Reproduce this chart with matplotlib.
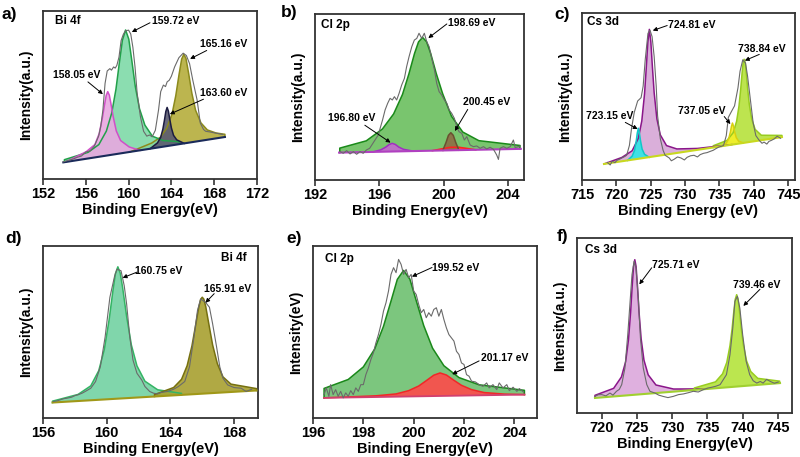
import matplotlib
matplotlib.use("Agg")
import matplotlib.pyplot as plt

plt.rcParams['font.family'] = ['Liberation Sans', 'DejaVu Sans']
plt.rcParams['font.weight'] = 'bold'
plt.rcParams['axes.labelweight'] = 'bold'

# ---------------- a) Bi 4f ----------------
a_raw_x = [153.9, 154.3, 154.8, 155.2, 155.6, 156.0, 156.4, 156.8, 157.2, 157.4, 157.6, 157.8, 158.0, 158.25, 158.4,
           158.6, 158.75, 158.9, 159.1, 159.3, 159.5, 159.7, 160.0, 160.2, 160.4, 160.6, 160.8, 161.1, 161.4, 161.7,
           161.95, 162.2, 162.5, 162.8, 163.0, 163.25, 163.45, 163.6, 163.8, 164.0, 164.3, 164.7, 165.1, 165.4, 165.7,
           166.0, 166.4, 166.7, 167.0, 167.2, 167.6, 168.0, 168.4, 168.8]
a_raw_y = [10.2, 11.0, 11.8, 12.9, 13.7, 16.1, 16.7, 19.6, 25.5, 31.4, 41.2, 56.9, 64.3, 65.7, 64.8,
           66.7, 66.0, 67.6, 72.5, 82.4, 86.0, 88.2, 88.6, 86.3, 78.4, 66.7, 51.0, 37.3, 28.4, 25.5,
           26.2, 25.1, 29.0, 41.2, 52.0, 55.9, 55.0, 57.8, 58.8, 61.2, 66.7, 72.2, 74.9, 73.5, 68.6,
           58.8, 47.1, 33.3, 29.5, 28.4, 28.0, 27.5, 27.0, 26.5]
a_base_x = [153.9, 169.0]
a_base_y = [9.9, 25.0]
a_pink_x = [154.15, 155.0, 156.05, 156.85, 157.25, 157.55, 157.75, 157.9, 158.05, 158.2, 158.35, 158.55, 158.85,
            159.25, 160.05, 161.05]
a_pink_y = [10.15, 12.9, 16.3, 20.5, 27.0, 36.4, 44.2, 49.6, 52.0, 49.9, 44.8, 37.4, 28.6, 22.9, 19.1, 17.05]
a_green_x = [154.0, 154.0, 156.22, 157.22, 157.92, 158.42, 158.82, 159.12, 159.42, 159.72, 160.02, 160.32, 160.62,
             161.02, 161.52, 162.22, 163.22, 164.72, 164.72]
a_green_y = [10.0, 11.5, 15.9, 20.5, 28.5, 39.2, 53.5, 68.4, 82.6, 88.7, 83.2, 69.6, 55.3, 41.8, 32.1, 25.5, 22.9,
             22.2, 20.72]
a_navy_x = [162.0, 162.7, 163.0, 163.2, 163.35, 163.48, 163.6, 163.72, 163.85, 164.0, 164.2, 164.5, 165.2]
a_navy_y = [18.0, 21.5, 24.8, 29.6, 35.0, 40.2, 42.6, 40.4, 35.5, 30.4, 26.0, 23.3, 21.2]
a_olive_x = [160.16, 162.16, 162.96, 163.56, 164.06, 164.41, 164.71, 164.96, 165.16, 165.36, 165.61, 165.91, 166.26,
             166.76, 167.36, 168.16, 169.0, 169.0]
a_olive_y = [16.16, 21.4, 24.8, 30.2, 38.7, 49.6, 62.0, 71.4, 74.2, 71.8, 62.9, 51.1, 40.9, 33.4, 29.2, 27.4, 26.6,
             25.0]

# ---------------- b) Cl 2p ----------------
b_raw_x = [193.56, 193.76, 193.97, 194.18, 194.39, 194.59, 194.8, 195.0, 195.2, 195.4,
           195.6, 195.8, 195.94, 196.05, 196.2, 196.36, 196.52, 196.67, 196.81, 196.94,
           197.08, 197.23, 197.39, 197.56, 197.7, 197.85, 198.02, 198.18, 198.33, 198.47,
           198.64, 198.8, 198.95, 199.1, 199.26, 199.43, 199.57, 199.72, 199.88, 200.05,
           200.2, 200.34, 200.5, 200.67, 200.82, 200.96, 201.13, 201.29, 201.44, 201.65,
           201.85, 202.06, 202.27, 202.48, 202.68, 202.89, 203.1, 203.3, 203.41, 203.51,
           203.72, 203.93, 204.14, 204.34, 204.45, 204.76]
b_raw_y = [17.1, 16.1, 17.7, 15.7, 17.1, 15.5, 17.1, 16.1, 18.1, 19.1,
           22.1, 25.1, 27.1, 31.1, 36.1, 42.2, 46.2, 49.2, 48.2, 50.2,
           48.2, 52.2, 57.2, 61.2, 68.3, 74.3, 80.3, 84.3, 85.3, 88.4,
           85.3, 88.4, 83.3, 80.3, 73.3, 66.3, 58.2, 53.2, 51.2, 48.2,
           46.2, 42.2, 40.2, 37.1, 32.1, 29.1, 28.1, 24.1, 26.1, 21.1,
           20.1, 20.5, 19.1, 20.1, 18.7, 19.7, 18.5, 15.1, 12.4, 19.1,
           20.1, 19.1, 20.1, 24.1, 19.5, 20.5]
b_base_x = [193.5, 204.8]
b_base_y = [16.5, 18.76]
b_green_x = [193.54, 193.54, 195.19, 196.19, 196.89, 197.44, 197.84, 198.19, 198.44, 198.69, 198.94, 199.19, 199.54,
             199.94, 200.49, 201.19, 202.19, 204.75, 204.75]
b_green_y = [16.5, 19.2, 23.6, 30.7, 39.8, 51.5, 63.9, 76.2, 83.2, 85.9, 83.3, 76.4, 64.2, 52.0, 38.4, 28.9, 23.7,
             20.8, 18.75]
b_purple_x = [195.6, 196.1, 196.4, 196.6, 196.8, 197.0, 197.2, 197.5, 198.1]
b_purple_y = [16.9, 18.2, 19.8, 21.3, 22.1, 21.4, 19.9, 18.5, 17.4]
b_brown_x = [199.95, 200.15, 200.3, 200.45, 200.6, 200.75, 200.95]
b_brown_y = [17.8, 22.6, 26.9, 28.5, 26.9, 22.7, 18.0]
b_red_x = [199.3, 199.9, 200.4, 200.9, 201.4, 202.0]
b_red_y = [17.7, 18.8, 19.7, 19.8, 19.1, 18.2]

# ---------------- c) Cs 3d ----------------
c_raw_x = [718.7, 719.1, 719.4, 719.8, 720.1, 720.5, 720.8, 721.2, 721.5, 721.9,
           722.2, 722.6, 723.1, 723.6, 723.9, 724.2, 724.6, 724.9, 725.2, 725.5,
           725.8, 726.0, 726.4, 726.8, 727.1, 727.7, 728.0, 728.4, 728.9, 729.4,
           729.9, 730.3, 730.8, 731.3, 731.8, 732.2, 732.7, 733.2, 733.7, 734.1,
           734.5, 734.9, 735.3, 735.6, 736.0, 736.3, 736.8, 737.2, 737.7, 738.0,
           738.4, 738.8, 739.1, 739.5, 739.9, 740.3, 740.8, 741.2, 741.5, 741.9,
           742.2, 742.6, 743.0, 743.4, 743.9]
c_raw_y = [10.5, 9.0, 11.2, 10.4, 11.8, 12.5, 13.2, 14.0, 14.8, 20.7,
           30.6, 40.4, 47.3, 49.3, 56.2, 72.0, 87.8, 89.7, 85.8, 74.0,
           56.2, 38.5, 24.7, 17.8, 14.8, 13.2, 11.5, 12.4, 13.8, 13.2,
           12.0, 13.6, 14.5, 14.8, 13.8, 15.2, 16.0, 16.4, 17.2, 17.8,
           18.8, 19.7, 20.2, 20.7, 26.6, 37.5, 41.4, 44.4, 55.2, 65.1,
           72.0, 70.0, 62.1, 48.3, 34.5, 26.6, 23.7, 22.0, 22.7, 21.5,
           23.1, 23.8, 24.7, 26.2, 25.0]
c_base_x = [718.2, 744.1]
c_base_y = [9.6, 25.7]
c_purple_x = [718.2, 720.8, 722.3, 723.2, 723.7, 724.1, 724.35, 724.58, 724.8, 725.02, 725.25, 725.5, 725.9, 726.4,
              727.3, 728.8, 731.8, 736.8]
c_purple_y = [9.6, 13.5, 17.5, 25.0, 35.3, 51.5, 67.0, 82.4, 90.2, 82.7, 67.5, 52.4, 36.6, 27.0, 20.6, 18.6, 18.9,
              21.2]
c_cyan_x = [721.6, 722.3, 722.65, 722.9, 723.05, 723.2, 723.35, 723.5, 723.75, 724.1, 724.8]
c_cyan_y = [11.7, 14.3, 17.8, 23.5, 28.2, 31.0, 28.4, 23.9, 18.5, 15.4, 13.6]
c_yellow_x = [735.3, 736.0, 736.35, 736.6, 736.75, 736.9, 737.05, 737.2, 737.45, 737.8, 738.5]
c_yellow_y = [20.2, 22.1, 24.7, 28.7, 32.1, 34.1, 32.3, 29.1, 25.4, 23.2, 22.2]
c_lime_x = [734.1, 734.1, 736.1, 737.0, 737.5, 737.85, 738.1, 738.3, 738.45, 738.6, 738.75, 738.9, 739.1, 739.35,
            739.7, 740.2, 741.1, 744.1, 744.1]
c_lime_y = [19.5, 20.5, 23.7, 28.3, 35.1, 44.3, 54.5, 64.1, 70.2, 72.3, 70.4, 64.5, 55.1, 45.3, 36.5, 30.3, 26.8,
            26.7, 25.7]

# ---------------- d) Bi 4f ----------------
d_raw_x = [156.65, 156.9, 157.1, 157.3, 157.5, 157.8, 158.0, 158.2, 158.45, 158.65,
           159.0, 159.3, 159.6, 159.9, 160.2, 160.5, 160.65, 160.9, 161.1, 161.25,
           161.45, 161.65, 161.9, 162.2, 162.4, 162.7, 162.95, 163.2, 163.4, 163.8,
           164.2, 164.5, 164.9, 165.2, 165.45, 165.7, 165.9, 166.2, 166.45, 166.65,
           166.9, 167.1, 167.3, 167.6, 168.0, 168.45, 168.75, 169.1]
d_raw_y = [9.6, 10.0, 10.6, 11.2, 11.5, 12.1, 13.0, 13.5, 14.4, 15.4,
           17.3, 21.2, 29.8, 47.1, 70.2, 82.7, 86.5, 85.6, 76.9, 66.3,
           47.1, 33.7, 26.0, 22.1, 18.3, 15.4, 14.4, 14.0, 14.8, 15.4,
           16.7, 18.3, 21.2, 29.8, 45.2, 62.5, 69.2, 67.3, 64.4, 54.8,
           41.3, 29.8, 23.1, 19.2, 17.7, 17.3, 15.4, 16.7]
d_base_x = [156.6, 169.4]
d_base_y = [9.0, 16.0]
d_green_x = [156.6, 156.6, 158.2, 159.0, 159.5, 159.85, 160.15, 160.4, 160.55, 160.7, 160.85, 161.0, 161.25, 161.55,
             161.9, 162.4, 163.2, 164.7, 164.7]
d_green_y = [9.0, 9.8, 13.7, 18.7, 27.5, 39.9, 57.0, 74.7, 84.0, 87.9, 84.2, 75.8, 59.1, 42.4, 30.3, 21.4, 16.4,
             14.3, 13.5]
d_olive_x = [163.0, 163.0, 164.2, 164.7, 165.05, 165.35, 165.6, 165.78, 165.9, 166.0, 166.1, 166.22, 166.4, 166.65,
             166.95, 167.3, 167.8, 169.4, 169.4]
d_olive_y = [12.5, 13.6, 17.7, 22.5, 30.4, 41.8, 54.8, 64.4, 69.0, 70.2, 69.1, 64.7, 55.3, 42.5, 31.5, 23.9, 19.7,
             17.1, 16.0]

# ---------------- e) Cl 2p ----------------
e_raw_x = [196.44, 196.53, 196.63, 196.7, 196.8, 196.9, 197.0, 197.1, 197.2, 197.3,
           197.4, 197.5, 197.6, 197.7, 197.8, 197.9, 198.0, 198.1, 198.2, 198.3,
           198.4, 198.5, 198.6, 198.7, 198.8, 198.9, 199.0, 199.1, 199.2, 199.3,
           199.4, 199.5, 199.6, 199.7, 199.8, 199.9, 200.0, 200.1, 200.2, 200.3,
           200.4, 200.5, 200.6, 200.7, 200.8, 200.9, 201.0, 201.1, 201.2, 201.3,
           201.4, 201.5, 201.6, 201.7, 201.8, 201.9, 202.0, 202.1, 202.2, 202.3,
           202.45, 202.6, 202.75, 202.9, 203.0, 203.15, 203.3, 203.4, 203.55, 203.7,
           203.8, 203.95, 204.1, 204.2, 204.36]
e_raw_y = [13.6, 17.5, 12.6, 19.4, 13.6, 16.5, 12.6, 15.5, 11.7, 14.6,
           12.6, 15.9, 13.6, 17.5, 15.5, 19.4, 19.4, 25.2, 29.1, 34.0,
           37.9, 43.7, 48.5, 54.4, 62.1, 67.0, 73.8, 83.5, 87.4, 84.5,
           92.2, 89.3, 83.5, 86.4, 81.6, 83.5, 73.8, 71.8, 66.0, 61.2,
           63.1, 58.3, 61.2, 59.2, 63.1, 64.1, 59.2, 63.1, 57.3, 52.4,
           48.5, 46.6, 44.7, 38.8, 36.9, 32.0, 31.1, 25.2, 24.3, 21.4,
           21.0, 19.4, 18.4, 20.4, 17.5, 19.4, 16.5, 20.4, 17.5, 19.4,
           15.9, 17.9, 15.5, 17.1, 15.1]
e_base_x = [196.44, 204.4]
e_base_y = [11.7, 13.6]
e_green_x = [196.44, 196.44, 197.4, 198.0, 198.45, 198.8, 199.1, 199.35, 199.6, 199.85, 200.1, 200.4, 200.75, 201.2,
             201.8, 202.6, 204.4, 204.4]
e_green_y = [11.7, 17.2, 22.4, 29.7, 40.1, 53.3, 68.0, 80.6, 85.8, 80.7, 68.3, 53.7, 40.6, 30.4, 23.5, 19.3, 16.1,
             13.6]
e_red_x = [196.44, 198.5, 199.3, 199.8, 200.2, 200.5, 200.8, 201.05, 201.3, 201.6, 201.9, 202.3, 202.8, 203.6, 204.4]
e_red_y = [11.7, 12.9, 14.0, 15.9, 18.6, 21.7, 24.9, 26.2, 25.0, 21.9, 19.0, 16.5, 14.8, 13.9, 13.6]

# ---------------- f) Cs 3d ----------------
f_raw_x = [719.05, 719.5, 720.0, 720.6, 721.18, 721.6, 722.1, 722.5, 722.84, 723.3,
           723.7, 724.0, 724.3, 724.6, 724.87, 725.2, 725.5, 725.9, 726.4, 726.85,
           727.56, 728.1, 728.7, 729.4, 730.16, 730.9, 731.6, 732.3, 733.0, 733.7,
           734.4, 735.0, 735.6, 736.2, 736.8, 737.7, 738.2, 738.6, 738.9, 739.25,
           739.6, 740.0, 740.5, 741.0, 741.5, 742.0, 742.5, 742.9, 743.4, 743.9,
           744.5, 745.05]
f_raw_y = [9.5, 10.4, 10.5, 9.8, 11.4, 10.2, 12.4, 13.5, 16.2, 25.7,
           44.8, 61.9, 79.0, 86.7, 82.9, 65.7, 42.9, 25.7, 16.2, 12.4,
           11.4, 10.2, 9.5, 8.8, 9.5, 10.5, 10.9, 11.6, 12.4, 12.0,
           13.3, 14.2, 14.7, 15.3, 16.2, 21.9, 33.3, 48.6, 63.8, 66.7,
           60.0, 44.8, 29.5, 21.9, 18.4, 17.1, 18.0, 17.1, 19.2, 18.1,
           17.0, 17.7]
f_base_x = [719.05, 745.3]
f_base_y = [8.6, 17.1]
f_purple_x = [719.05, 719.05, 721.7, 722.8, 723.4, 723.8, 724.1, 724.32, 724.52, 724.7, 724.88, 725.08, 725.3, 725.6,
              726.0, 726.6, 727.7, 730.2, 735.0]
f_purple_y = [8.6, 10.1, 14.1, 20.6, 29.3, 41.8, 57.3, 72.1, 83.7, 87.6, 83.8, 72.3, 57.7, 42.4, 30.2, 21.8, 16.0,
              13.7, 13.8]
f_lime_x = [733.15, 733.15, 736.15, 737.15, 737.75, 738.2, 738.5, 738.75, 738.95, 739.15, 739.35, 739.55, 739.8,
            740.1, 740.55, 741.15, 742.15, 745.25, 745.25]
f_lime_y = [13.2, 14.3, 17.8, 22.4, 28.9, 38.4, 48.0, 58.1, 65.0, 67.6, 65.1, 58.4, 48.4, 39.0, 29.8, 23.7, 19.8,
            18.2, 17.1]

W, H = 800, 457
fig = plt.figure(figsize=(W / 100, H / 100), dpi=100)


def panel(l, t, r, b):
    return fig.add_axes([l / W, 1 - b / H, (r - l) / W, (b - t) / H])


def style(ax, xlim, ticks, xlabel, ylabel):
    ax.set_xlim(*xlim)
    ax.set_ylim(0, 100)
    ax.set_xticks(ticks)
    ax.set_yticks([])
    ax.tick_params(axis='x', direction='out', length=4, width=1.2, labelsize=10.5, pad=2, color='#333333')
    for s in ax.spines.values():
        s.set_linewidth(1.3)
        s.set_color('#333333')
    ax.set_xlabel(xlabel, fontsize=10.5, labelpad=1.5)
    ax.set_ylabel(ylabel, fontsize=10, labelpad=7)


def peak(ax, x, y, fc, ec, z=2):
    ax.fill(x, y, color=fc, alpha=0.9, lw=0, zorder=z)
    ax.plot(x, y, color=ec, lw=1.1, zorder=z + 3)


def note(ax, text, pos, start, end):
    ax.text(pos[0], pos[1], text, fontsize=7.5, ha='left', va='center', zorder=10)
    ax.annotate('', xy=end, xytext=start, zorder=10,
                arrowprops=dict(arrowstyle='-|>', color='black', lw=0.7, mutation_scale=6,
                                shrinkA=0, shrinkB=0))


def raw(ax, x, y):
    ax.plot(x, y, color='#6a6a6a', lw=0.8, zorder=7)


# a)
ax = panel(43, 11, 257, 179)
peak(ax, a_olive_x, a_olive_y, '#b5ad3c', '#8c8a1c', 2)
peak(ax, a_green_x, a_green_y, '#7fdaa8', '#22a04a', 2)
peak(ax, a_pink_x, a_pink_y, '#e8a8e0', '#d050c8', 3)
peak(ax, a_navy_x, a_navy_y, '#5a5a70', '#1c1c40', 3)
ax.plot(a_base_x, a_base_y, color='#1a2a5a', lw=1.5, zorder=6)
raw(ax, a_raw_x, a_raw_y)
style(ax, (152, 172), [152, 156, 160, 164, 168, 172], 'Binding Energy(eV)', 'Intensity(a.u.)')
ax.text(153.1, 94, 'Bi 4f', fontsize=8.5, va='center')
note(ax, '159.72 eV', (162.2, 94), (162.0, 93), (160.3, 87.5))
note(ax, '165.16 eV', (166.7, 80.4), (167.3, 76.5), (165.75, 71.5))
note(ax, '158.05 eV', (152.9, 61.8), (156.2, 57.8), (157.6, 50.5))
note(ax, '163.60 eV', (166.7, 51), (167.0, 47.5), (163.85, 38.6))

# b)
ax = panel(315, 14, 524, 180)
peak(ax, b_green_x, b_green_y, '#6abf5e', '#1a8a1a', 2)
peak(ax, b_purple_x, b_purple_y, '#c468d0', '#a030c0', 3)
peak(ax, b_red_x, b_red_y, '#ff4040', '#ff2020', 3)
peak(ax, b_brown_x, b_brown_y, '#8e6e44', '#6a5030', 3)
ax.plot(b_base_x, b_base_y, color='#b040c0', lw=1.5, zorder=6)
raw(ax, b_raw_x, b_raw_y)
style(ax, (192, 205), [192, 196, 200, 204], 'Binding Energy(eV)', 'Intensity(a.u.)')
ax.text(192.4, 93.4, 'Cl 2p', fontsize=8.5, va='center')
note(ax, '198.69 eV', (200.3, 94.8), (200.2, 94), (199.05, 85.5))
note(ax, '200.45 eV', (201.2, 47.2), (201.5, 42.5), (200.7, 29.5))
note(ax, '196.80 eV', (192.8, 37.1), (195.1, 33.0), (196.7, 22.5))

# c)
ax = panel(582, 13, 795, 180)
peak(ax, c_lime_x, c_lime_y, '#b6e23c', '#98cc20', 2)
peak(ax, c_yellow_x, c_yellow_y, '#f4f028', '#d8d010', 3)
peak(ax, c_purple_x, c_purple_y, '#d6a6d6', '#8a168a', 2)
peak(ax, c_cyan_x, c_cyan_y, '#2ee6e6', '#10c8c8', 3)
ax.plot(c_base_x, c_base_y, color='#c8d820', lw=1.5, zorder=6)
raw(ax, c_raw_x, c_raw_y)
style(ax, (715, 746), [715, 720, 725, 730, 735, 740, 745], 'Binding Energy (eV)', 'Intensity(a.u.)')
ax.text(715.8, 94.7, 'Cs 3d', fontsize=8.5, va='center')
note(ax, '724.81 eV', (727.5, 92.7), (727.4, 92.5), (725.3, 89.5))
note(ax, '738.84 eV', (737.7, 78.3), (740.8, 75.2), (738.7, 71.5))
note(ax, '723.15 eV', (715.6, 38.1), (721.3, 34.5), (723.1, 30.5))
note(ax, '737.05 eV', (728.9, 41.4), (735.7, 38.0), (736.6, 33.5))

# d)
ax = panel(43, 246, 258, 418)
peak(ax, d_green_x, d_green_y, '#72d2a2', '#34b464', 2)
peak(ax, d_olive_x, d_olive_y, '#a8a030', '#767010', 3)
ax.plot(d_base_x, d_base_y, color='#a09818', lw=1.5, zorder=6)
raw(ax, d_raw_x, d_raw_y)
style(ax, (156, 169.5), [156, 160, 164, 168], 'Binding Energy(eV)', 'Intensity(a.u.)')
ax.text(168.8, 93.3, 'Bi 4f', fontsize=8.5, va='center', ha='right')
note(ax, '160.75 eV', (161.8, 85.6), (161.9, 84.8), (161.0, 81.5))
note(ax, '165.91 eV', (166.1, 75), (166.75, 72.3), (166.2, 67.0))

# e)
ax = panel(313, 246, 537, 418)
peak(ax, e_green_x, e_green_y, '#6ec070', '#1a881a', 2)
peak(ax, e_red_x, e_red_y, '#ff4a4a', '#f02828', 3)
ax.plot(e_base_x, e_base_y, color='#d04070', lw=1.3, zorder=6)
raw(ax, e_raw_x, e_raw_y)
style(ax, (196, 204.9), [196, 198, 200, 202, 204], 'Binding Energy(eV)', 'Intensity(eV)')
ax.text(196.47, 92.2, 'Cl 2p', fontsize=8.5, va='center')
note(ax, '199.52 eV', (200.73, 87), (200.73, 87.5), (199.93, 82.2))
note(ax, '201.17 eV', (202.67, 35), (202.6, 33.2), (201.53, 25.4))

# f)
ax = panel(577, 238, 792, 413)
peak(ax, f_purple_x, f_purple_y, '#dca8dc', '#8a168a', 2)
peak(ax, f_lime_x, f_lime_y, '#b4e43c', '#98cc20', 2)
ax.plot(f_base_x, f_base_y, color='#a0d030', lw=1.5, zorder=6)
raw(ax, f_raw_x, f_raw_y)
style(ax, (716.5, 747), [720, 725, 730, 735, 740, 745], 'Binding Energy(eV)', 'Intensity(a.u.)')
ax.text(717.6, 93.3, 'Cs 3d', fontsize=8.5, va='center')
note(ax, '725.71 eV', (727.1, 84.8), (727.1, 83.0), (725.34, 73.5))
note(ax, '739.46 eV', (738.7, 73.3), (742.46, 70.7), (740.1, 61.2))

# panel letters
for lbl, px, py in [('a)', 1, 14), ('b)', 281, 13), ('c)', 554, 14),
                    ('d)', 5, 238), ('e)', 286, 238), ('f)', 557, 236)]:
    fig.text(px / W, 1 - py / H, lbl, fontsize=12.5, ha='left', va='center')

fig.savefig('out.png', dpi=100)
